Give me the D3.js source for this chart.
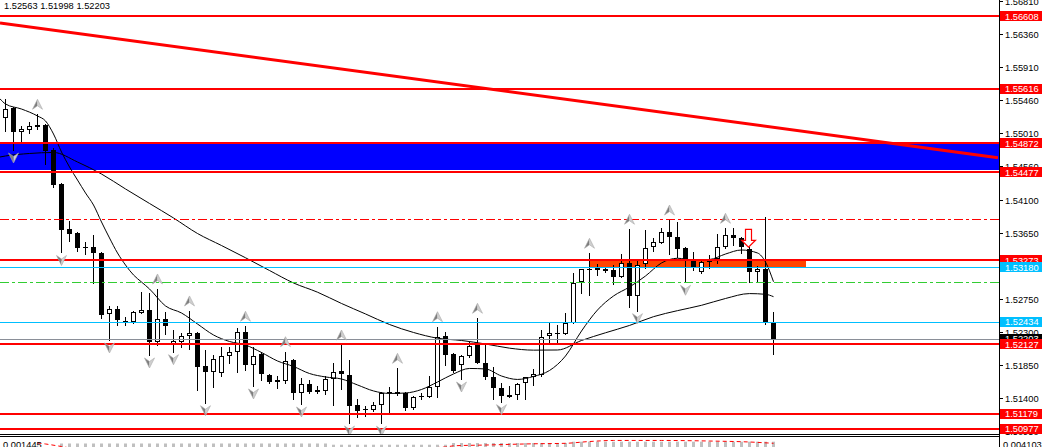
<!DOCTYPE html>
<html><head><meta charset="utf-8">
<script src="https://cdn.jsdelivr.net/npm/d3@7"></script>
<style>html,body{margin:0;padding:0;background:#fff;overflow:hidden}</style>
</head><body>
<svg id="c" width="1042" height="447"></svg>
<script>
// ---------------- DATA ----------------
const opens = [1.55213,1.55350,1.55033,1.55054,1.55122,1.55122,1.54781,1.54317,1.53699,1.53644,
1.53461,1.53461,1.53379,1.52538,1.52607,1.52447,1.52437,1.52560,1.52597,1.52165,
1.52474,1.52129,1.52156,1.52242,1.52287,1.51833,1.51747,1.51733,1.51969,1.52020,
1.52293,1.51847,1.51993,1.51710,1.51610,1.51632,1.51915,1.51468,1.51583,1.51474,
1.51492,1.51651,1.51765,1.51710,1.51301,1.51239,1.51232,1.51301,1.51482,1.51482,
1.51468,1.51256,1.51406,1.51414,1.51550,1.52242,1.51997,1.51847,1.51969,1.52143,
1.51870,1.51679,1.51529,1.51437,1.51437,1.51597,1.51679,1.51710,1.52242,1.52287,
1.52270,1.52416,1.52975,1.53161,1.53174,1.53153,1.53143,1.53052,1.53235,1.52792,
1.53225,1.53461,1.53516,1.53666,1.53589,1.53439,1.53266,1.53112,1.53248,1.53289,
1.53453,1.53621,1.53576,1.53426,1.53112,1.53153,1.52416];
const highs = [1.55473,1.55368,1.55108,1.55167,1.55268,1.55136,1.54808,1.54324,1.53812,1.53662,
1.53529,1.53621,1.53389,1.52652,1.52652,1.52502,1.52584,1.52843,1.52833,1.52884,
1.52574,1.52324,1.52287,1.52584,1.52297,1.52051,1.51983,1.52096,1.52088,1.52355,
1.52375,1.52096,1.52028,1.51724,1.51696,1.52028,1.51928,1.51673,1.51642,1.51560,
1.51696,1.51878,1.52119,1.51915,1.51378,1.51287,1.51346,1.51482,1.51550,1.51801,
1.51478,1.51428,1.51460,1.51700,1.52369,1.52301,1.52010,1.51983,1.52165,1.52484,
1.52119,1.51823,1.51597,1.51560,1.51605,1.51687,1.51788,1.52324,1.52416,1.52392,
1.52552,1.53098,1.53157,1.53371,1.53225,1.53180,1.53211,1.53357,1.53699,1.53270,
1.53689,1.53576,1.53720,1.53825,1.53802,1.53461,1.53393,1.53280,1.53348,1.53634,
1.53712,1.53712,1.53598,1.53453,1.53198,1.53862,1.52563];
const lows = [1.55040,1.54781,1.54904,1.55013,1.55063,1.54590,1.54269,1.53382,1.53543,1.53406,
1.53361,1.52970,1.52492,1.52188,1.52392,1.52392,1.52424,1.52552,1.51983,1.52119,
1.52266,1.52028,1.52088,1.52061,1.51505,1.51332,1.51550,1.51696,1.51870,1.51755,
1.51778,1.51560,1.51642,1.51597,1.51537,1.51597,1.51378,1.51314,1.51460,1.51460,
1.51447,1.51301,1.51515,1.51055,1.51141,1.51155,1.51223,1.51051,1.51209,1.51437,
1.51232,1.51242,1.51382,1.51406,1.51406,1.51847,1.51747,1.51655,1.51960,1.51870,
1.51655,1.51378,1.51346,1.51406,1.51378,1.51378,1.51574,1.51700,1.52165,1.52165,
1.52263,1.52413,1.52825,1.52802,1.53075,1.53120,1.52952,1.53043,1.52642,1.52588,
1.53166,1.53406,1.53508,1.53361,1.53325,1.52975,1.53143,1.53098,1.53166,1.53243,
1.53439,1.53484,1.53371,1.52983,1.52983,1.52406,1.51998];
const closes = [1.55340,1.55031,1.55067,1.55112,1.55091,1.54767,1.54303,1.53689,1.53634,1.53439,
1.53439,1.53371,1.52529,1.52607,1.52461,1.52427,1.52566,1.52597,1.52165,1.52470,
1.52383,1.52174,1.52242,1.52279,1.51823,1.51747,1.51924,1.51969,1.52020,1.52293,
1.51847,1.51973,1.51720,1.51610,1.51642,1.51905,1.51460,1.51583,1.51474,1.51505,
1.51651,1.51755,1.51720,1.51287,1.51223,1.51246,1.51301,1.51468,1.51460,1.51451,
1.51256,1.51414,1.51428,1.51542,1.52233,1.51983,1.51769,1.51969,1.52106,1.51878,
1.51679,1.51529,1.51423,1.51414,1.51587,1.51679,1.51720,1.52233,1.52279,1.52266,
1.52416,1.52970,1.53153,1.53153,1.53143,1.53134,1.53052,1.53235,1.52792,1.53211,
1.53439,1.53521,1.53666,1.53589,1.53430,1.53266,1.53166,1.53248,1.53289,1.53453,
1.53621,1.53576,1.53453,1.53112,1.53153,1.52416,1.52203];

// moving averages: [bar index, price]
const maFast = [[-0.7,1.55480],[0,1.55409],[2,1.55340],[4,1.55245],[5,1.55177],[6,1.54999],[7,1.54754],[8,1.54549],[9,1.54371],[10,1.54194],[11,1.54030],[12,1.53798],[13,1.53580],[14,1.53375],[15,1.53211],[16,1.53075],[17,1.52979],[18,1.52884],[20,1.52652],[22,1.52556],[24,1.52406],[26,1.52256],[28,1.52167],[30,1.52119],[32,1.52017],[34,1.51901],[36,1.51826],[38,1.51730],[40,1.51683],[42,1.51655],[44,1.51574],[46,1.51492],[48,1.51458],[50,1.51464],[52,1.51512],[54,1.51614],[56,1.51724],[58,1.51799],[60,1.51792],[62,1.51696],[64,1.51649],[66,1.51690],[68,1.51771],[70,1.51969],[72,1.52310],[74,1.52597],[76,1.52788],[78,1.52911],[80,1.53061],[82,1.53239],[84,1.53303],[86,1.53280],[88,1.53286],[90,1.53361],[92,1.53416],[94,1.53375],[95,1.53252],[96,1.52983]];
const maSlow = [[-0.7,1.54685],[0,1.54699],[3,1.54733],[6,1.54747],[9,1.54617],[12,1.54453],[15,1.54249],[18,1.54051],[21,1.53853],[24,1.53641],[27,1.53477],[30,1.53310],[33,1.53136],[36,1.52966],[39,1.52840],[42,1.52686],[45,1.52543],[48,1.52399],[51,1.52290],[54,1.52212],[57,1.52181],[60,1.52133],[63,1.52076],[66,1.52049],[69,1.52051],[72,1.52181],[75,1.52286],[78,1.52386],[81,1.52506],[84,1.52588],[87,1.52661],[90,1.52754],[93,1.52821],[95,1.52811],[96,1.52779]];

const upFractals = [4,19,23,30,35,42,49,54,59,73,78,83,90];
const downFractals = [1,7,13,18,21,25,31,37,43,47,57,62,79,85];
const sellSignalBar = 93;

const redLevels = [1.56608,1.55616,1.54872,1.54477,1.53273,1.52127,1.51179,1.50977];
const blueLevels = [1.53180,1.52434];
const bidPrice = 1.52203;
const dashRedLevel = 1.53835;
const dashGreenLevel = 1.52975;
const blueBand = [1.54872,1.54501];
const zoneBars = [72.9,100];
const zonePrices = [1.53273,1.53180];
const trendLine = [[-0.6875,1.56514],[124.06,1.54676]];
const axisTicks = [1.56810,1.56360,1.55910,1.55460,1.55010,1.54560,1.54100,1.53650,1.53200,1.52750,1.52300,1.51850,1.51400,1.50950];

// sub window (oscillator)
const histStart = 7;
const histValues = [0.00305,0.00305,0.00305,0.00305,0.00305,0.00305,0.00305,0.00305,0.00305,0.00305,
0.00305,0.00305,0.00305,0.00305,0.00305,0.00305,0.00305,0.00305,0.00305,0.00305,
0.00305,0.00305,0.00305,0.00305,0.00305,0.00305,0.00305,0.00305,0.00305,0.00305,
0.00305,0.00305,0.00305,0.00305,0.00285,0.00285,0.00285,0.00285,0.00285,0.00285,
0.00285,0.00285,0.00285,0.00285,0.00285,0.00285,0.00285,0.00285,0.00285,0.00313,
0.00313,0.00313,0.00313,0.00313,0.00313,0.00313,0.00313,0.00313,0.00313,0.00313,
0.00313,0.00313,0.00313,0.00313,0.00334,0.00334,0.00334,0.00334,0.00334,0.00334,
0.00334,0.00334,0.00334,0.00334,0.00334,0.00334,0.00334,0.00334,0.00334,0.00334,
0.00334,0.00334,0.00334,0.00334,0.00334,0.00334,0.00334,0.00334,0.00334,0.00334];
const signalLine = [[4,0.00313],[5,0.00297],[7,0.00256],[9,0.00215],[20,0.00167],[40,0.00183],[55,0.00248],[56,0.00267],[60,0.00280],[66,0.00300],[70,0.00308],[73,0.00337],[76,0.00354],[82,0.00354],[88,0.00345],[93,0.00329],[96,0.00308]];
const subMaxLabel = "0.004103";
const subValueLabel = "0.001445";

// ---------------- CHART ----------------
const W = 1042, H = 447, plotRight = 999, mainBottom = 434;
const FONT = "'Liberation Sans', Arial, sans-serif";
const x = d3.scaleLinear().domain([0, 96]).range([5.5, 773.5]);
const y = d3.scaleLinear().domain([1.56828, 1.50727]).range([0, 447]);
const ys = d3.scaleLinear().domain([0.004103, -0.0045]).range([437, 490]);

const svg = d3.select('#c');
const defs = svg.append('defs');
defs.append('clipPath').attr('id', 'mainClip').append('rect')
  .attr('x', 0).attr('y', 0).attr('width', plotRight).attr('height', mainBottom);
defs.append('clipPath').attr('id', 'subClip').append('rect')
  .attr('x', 0).attr('y', 437).attr('width', plotRight).attr('height', 10);

const main = svg.append('g').attr('clip-path', 'url(#mainClip)');
const ry = v => Math.round(y(v));

// background objects
main.append('rect').attr('x', 0).attr('width', plotRight)
  .attr('y', ry(blueBand[0])).attr('height', ry(blueBand[1]) - ry(blueBand[0]))
  .attr('fill', '#0000ff');
main.append('rect').attr('x', Math.round(x(zoneBars[0]))).attr('width', Math.round(x(zoneBars[1])) - Math.round(x(zoneBars[0])))
  .attr('y', ry(zonePrices[0])).attr('height', ry(zonePrices[1]) - ry(zonePrices[0]))
  .attr('fill', '#ff4500');

// candles
const bars = d3.range(opens.length).map(i => ({i, o: opens[i], h: highs[i], l: lows[i], c: closes[i]}));
const cg = main.append('g').attr('shape-rendering', 'crispEdges');
cg.selectAll('line.wick').data(bars).join('line').attr('class', 'wick')
  .attr('x1', d => x(d.i)).attr('x2', d => x(d.i))
  .attr('y1', d => ry(d.h)).attr('y2', d => ry(d.l) + 1)
  .attr('stroke', '#000').attr('stroke-width', 1);
bars.forEach(d => {
  const top = ry(Math.max(d.o, d.c)), bot = ry(Math.min(d.o, d.c));
  const cx = x(d.i);
  if (bot - top < 2) {
    cg.append('rect').attr('x', cx - 2.5).attr('y', top).attr('width', 5).attr('height', Math.max(bot - top, 1))
      .attr('fill', '#000');
  } else if (d.c >= d.o) {
    cg.append('rect').attr('x', cx - 2).attr('y', top + 0.5).attr('width', 4).attr('height', bot - top - 1)
      .attr('fill', '#fff').attr('stroke', '#000').attr('stroke-width', 1);
  } else {
    cg.append('rect').attr('x', cx - 2.5).attr('y', top).attr('width', 5).attr('height', bot - top)
      .attr('fill', '#000');
  }
});

// moving averages
const maLine = d3.line().x(d => x(d[0])).y(d => y(d[1])).curve(d3.curveMonotoneX);
main.append('path').attr('d', maLine(maSlow)).attr('fill', 'none').attr('stroke', '#000').attr('stroke-width', 1);
main.append('path').attr('d', maLine(maFast)).attr('fill', 'none').attr('stroke', '#000').attr('stroke-width', 1);

// horizontal lines
const hl = main.append('g').attr('shape-rendering', 'crispEdges');
hl.append('line').attr('x1', 0).attr('x2', plotRight).attr('y1', ry(dashRedLevel) + 0.5).attr('y2', ry(dashRedLevel) + 0.5)
  .attr('stroke', '#ff0000').attr('stroke-width', 1).attr('stroke-dasharray', '9,3,3,3');
hl.append('line').attr('x1', 0).attr('x2', plotRight).attr('y1', ry(dashGreenLevel) + 0.5).attr('y2', ry(dashGreenLevel) + 0.5)
  .attr('stroke', '#32cd32').attr('stroke-width', 1).attr('stroke-dasharray', '9,3,3,3');
hl.append('line').attr('x1', 0).attr('x2', plotRight).attr('y1', ry(bidPrice) + 0.5).attr('y2', ry(bidPrice) + 0.5)
  .attr('stroke', '#8a8f98').attr('stroke-width', 1);
hl.selectAll('line.blue').data(blueLevels).join('line').attr('class', 'blue')
  .attr('x1', 0).attr('x2', plotRight).attr('y1', d => ry(d) + 0.5).attr('y2', d => ry(d) + 0.5)
  .attr('stroke', '#00bfff').attr('stroke-width', 1.3);
hl.selectAll('line.red').data(redLevels).join('line').attr('class', 'red')
  .attr('x1', 0).attr('x2', plotRight).attr('y1', d => ry(d)).attr('y2', d => ry(d))
  .attr('stroke', '#ff0000').attr('stroke-width', 2);

// trend line
main.append('line')
  .attr('x1', x(trendLine[0][0])).attr('y1', y(trendLine[0][1]))
  .attr('x2', x(trendLine[1][0])).attr('y2', y(trendLine[1][1]))
  .attr('stroke', '#ff0000').attr('stroke-width', 3);

// fractal arrows
function fractal(g, cx, cy, up) {
  const s = up ? 1 : -1;
  const a = g.append('g').attr('transform', `translate(${cx},${cy})`);
  a.append('path').attr('d', `M0,${-5*s} L0,${1.5*s} L-5,${5*s} Z`).attr('fill', '#7d7d7d');
  a.append('path').attr('d', `M0,${-5*s} L5,${5*s} L0,${1.5*s} Z`).attr('fill', '#cfcfcf');
  a.append('path').attr('d', `M0,${-5*s} L5,${5*s} L0,${1.5*s} L-5,${5*s} Z`)
    .attr('fill', 'none').attr('stroke', '#a9a9a9').attr('stroke-width', 0.6);
}
const fg = main.append('g');
upFractals.forEach(i => fractal(fg, x(i), y(highs[i]) - 10, true));
downFractals.forEach(i => fractal(fg, x(i), y(lows[i]) + 8, false));

// sell signal arrow
const tipY = y(highs[sellSignalBar]);
main.append('path')
  .attr('transform', `translate(${x(sellSignalBar) - 1},${tipY})`)
  .attr('d', 'M-3,-18 L3,-18 L3,-7 L7,-7 L0,0 L-7,-7 L-3,-7 Z')
  .attr('fill', '#fff').attr('stroke', '#ff0000').attr('stroke-width', 1.2);

// OHLC text
svg.append('text').attr('x', 4).attr('y', 8.5)
  .attr('font-family', FONT).attr('font-size', '9.3px').attr('fill', '#000')
  .text([highs[96], lows[96], closes[96]].map(v => v.toFixed(5)).join(' '));

// ---------- sub window ----------
const sub = svg.append('g').attr('clip-path', 'url(#subClip)');
const hist = histValues.map((v, k) => [histStart + k, v]);
sub.selectAll('rect.h').data(hist).join('rect').attr('class', 'h')
  .attr('x', d => x(d[0]) - 1.5).attr('width', 3)
  .attr('y', d => ys(d[1])).attr('height', d => ys(0) - ys(d[1]))
  .attr('fill', '#c0c0c0');
sub.append('path').attr('d', d3.line().x(d => x(d[0])).y(d => ys(d[1])).curve(d3.curveMonotoneX)(signalLine))
  .attr('fill', 'none').attr('stroke', '#ff0000').attr('stroke-width', 1).attr('stroke-dasharray', '4,3');
svg.append('text').attr('x', 3).attr('y', 448.3)
  .attr('font-family', FONT).attr('font-size', '9.3px').attr('fill', '#000').text(subValueLabel);

// frame lines
const fr = svg.append('g').attr('shape-rendering', 'crispEdges');
fr.append('line').attr('x1', 0).attr('x2', plotRight).attr('y1', 434.5).attr('y2', 434.5).attr('stroke', '#000');
fr.append('line').attr('x1', 0).attr('x2', plotRight).attr('y1', 436.5).attr('y2', 436.5).attr('stroke', '#000');
fr.append('line').attr('x1', plotRight + 0.5).attr('x2', plotRight + 0.5).attr('y1', 0).attr('y2', H).attr('stroke', '#000');

// ---------- price axis ----------
const ax = svg.append('g');
axisTicks.forEach(v => {
  const yy = y(v);
  ax.append('line').attr('x1', 999).attr('x2', 1003).attr('y1', Math.round(yy) + 0.5).attr('y2', Math.round(yy) + 0.5)
    .attr('stroke', '#000').attr('shape-rendering', 'crispEdges');
  ax.append('text').attr('x', 1005).attr('y', yy + 4)
    .attr('font-family', FONT).attr('font-size', '9.3px').attr('fill', '#000').text(v.toFixed(5));
});
function box(v, color) {
  const yy = y(v);
  ax.append('rect').attr('x', 1000).attr('y', Math.round(yy) - 5).attr('width', 42).attr('height', 10)
    .attr('fill', color);
  ax.append('text').attr('x', 1005).attr('y', yy + 3.4)
    .attr('font-family', FONT).attr('font-size', '9.3px').attr('fill', '#fff').text(v.toFixed(5));
}
box(bidPrice, '#000');
redLevels.forEach(v => box(v, '#ff0000'));
blueLevels.forEach(v => box(v, '#00bfff'));

// sub axis label
svg.append('text').attr('x', 1003).attr('y', 447.5)
  .attr('font-family', FONT).attr('font-size', '9.3px').attr('fill', '#000').text(subMaxLabel);
</script>
</body></html>
